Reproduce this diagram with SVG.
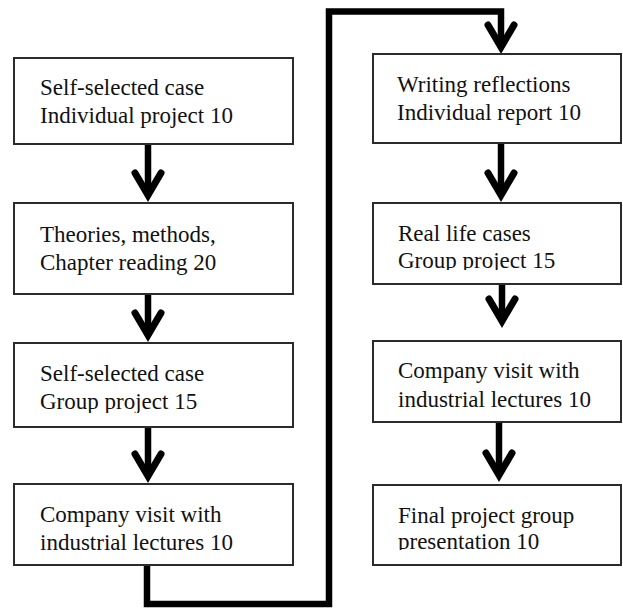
<svg xmlns="http://www.w3.org/2000/svg" width="623" height="608" viewBox="0 0 623 608">
<style>
.box{fill:#fff;stroke:#2b2b2b;stroke-width:2}
.t{font-family:"Liberation Serif","Times New Roman",serif;font-size:23px;fill:#111}
.conn{fill:none;stroke:#000;stroke-width:6.5;stroke-linejoin:miter}
</style>
<defs>
<marker id="chev" markerUnits="userSpaceOnUse" markerWidth="40" markerHeight="40" viewBox="-30 -20 40 40" refX="0" refY="0" orient="auto" overflow="visible">
<path d="M -22,-13 L 0,0 L -22,13" fill="none" stroke="#000" stroke-width="7" stroke-linecap="round" stroke-linejoin="miter"/>
</marker>
<clipPath id="cR2"><rect x="373" y="203" width="249" height="67"/></clipPath>
<clipPath id="cR4"><rect x="373" y="485" width="249" height="65"/></clipPath>
<clipPath id="cL3"><rect x="14" y="343" width="279" height="70"/></clipPath>
</defs>
<rect width="623" height="608" fill="#fff"/>
<g id="connectors">
<path class="conn" d="M148,144 V195" marker-end="url(#chev)"/>
<path class="conn" d="M148,294 V335" marker-end="url(#chev)"/>
<path class="conn" d="M148,427 V476" marker-end="url(#chev)"/>
<path class="conn" d="M147,565 V604 H329 V11.5 H501 V47" marker-end="url(#chev)"/>
<path class="conn" d="M501,143 V195" marker-end="url(#chev)"/>
<path class="conn" d="M502,284 V321" marker-end="url(#chev)"/>
<path class="conn" d="M499,422 V475" marker-end="url(#chev)"/>
</g>
<g id="n1">
<rect class="box" x="14" y="58" width="279" height="86"/>
<text class="t" x="40" y="95">Self-selected case</text>
<text class="t" x="40" y="123">Individual project 10</text>
</g>
<g id="n2">
<rect class="box" x="14" y="203" width="279" height="91"/>
<text class="t" x="40" y="242">Theories, methods,</text>
<text class="t" x="40" y="270">Chapter reading 20</text>
</g>
<g id="n3">
<rect class="box" x="14" y="343" width="279" height="84"/>
<text class="t" x="40" y="381">Self-selected case</text>
<text class="t" x="40" y="409" clip-path="url(#cL3)">Group project 15</text>
</g>
<g id="n4">
<rect class="box" x="14" y="484" width="279" height="81"/>
<text class="t" x="40" y="522">Company visit with</text>
<text class="t" x="40" y="550">industrial lectures 10</text>
</g>
<g id="n5">
<rect class="box" x="373" y="54" width="248" height="89"/>
<text class="t" x="397" y="92">Writing reflections</text>
<text class="t" x="397" y="120">Individual report 10</text>
</g>
<g id="n6">
<rect class="box" x="373" y="203" width="248" height="81"/>
<text class="t" x="398" y="241">Real life cases</text>
<text class="t" x="398" y="268" clip-path="url(#cR2)">Group project 15</text>
</g>
<g id="n7">
<rect class="box" x="373" y="341" width="248" height="81"/>
<text class="t" x="398" y="378">Company visit with</text>
<text class="t" x="398" y="407">industrial lectures 10</text>
</g>
<g id="n8">
<rect class="box" x="373" y="485" width="248" height="80"/>
<text class="t" x="398" y="523">Final project group</text>
<text class="t" x="398" y="549" clip-path="url(#cR4)">presentation 10</text>
</g>
</svg>
